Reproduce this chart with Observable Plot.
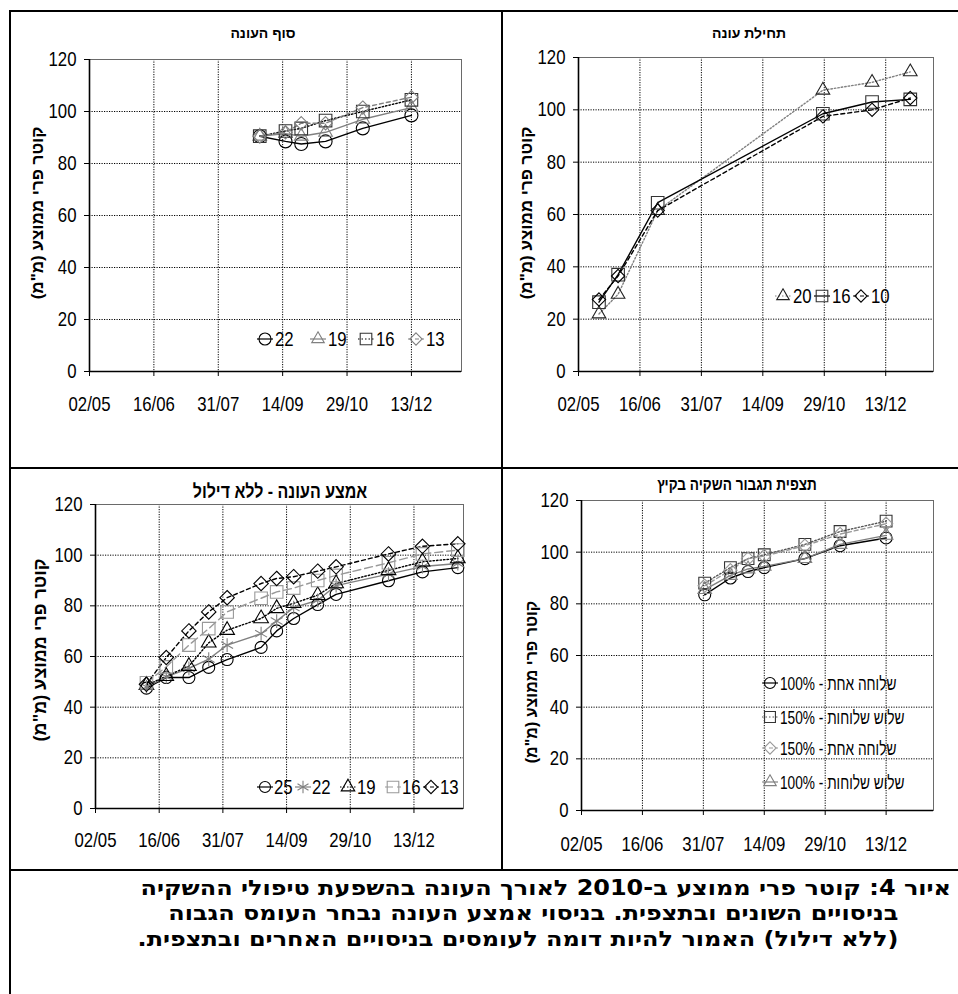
<!DOCTYPE html>
<html><head><meta charset="utf-8">
<script src="https://cdn.jsdelivr.net/npm/d3@7"></script>
<script src="https://cdn.jsdelivr.net/npm/@observablehq/plot@0.6"></script>
<style>
body{margin:0;background:#fff;}
#page{position:relative;width:958px;height:994px;overflow:hidden;background:#fff;font-family:"Liberation Sans",Arial,sans-serif;}
.b{position:absolute;background:#000;}
.title{position:absolute;font-weight:bold;white-space:nowrap;direction:rtl;color:#000;}
.ytitle{position:absolute;font-weight:bold;white-space:nowrap;direction:rtl;transform:translate(-50%,-50%) rotate(-90deg);color:#000;}
.cap{position:absolute;font-family:"DejaVu Sans",sans-serif;font-weight:bold;direction:rtl;white-space:nowrap;color:#000;line-height:25px;transform-origin:right center;transform:scaleX(1.14);}
</style></head>
<body><div id="page"></div>
<script>
// ---------- shared axis data ----------
const X_START = "2010-05-02", X_END = "2011-01-17";
const xTickDates = ["2010-05-02","2010-06-16","2010-07-31","2010-09-14","2010-10-29","2010-12-13"];
const xTickLabels = ["02/05","16/06","31/07","14/09","29/10","13/12"];
const yTicks = [0,20,40,60,80,100,120];
const yTitle = "קוטר פרי ממוצע (מ\"מ)";

// ---------- panel 1: סוף העונה ----------
const endTitle = "סוף העונה";
const endDates = ["2010-08-29","2010-09-16","2010-09-27","2010-10-14","2010-11-09","2010-12-13"];
const endNames = ["22","19","16","13"];
const end22 = [90.5, 88.5, 87.5, 88.5, 93.5, 98.5];
const end19 = [90.5, 91.5, 90.5, 92.0, 97.0, 101.5];
const end16 = [90.5, 92.5, 93.5, 96.5, 100.0, 104.5];
const end13 = [90.5, 92.0, 95.5, 95.5, 101.5, 105.5];

// ---------- panel 2: תחילת עונה ----------
const startTitle = "תחילת עונה";
const startDates = ["2010-05-17","2010-05-31","2010-06-29","2010-10-28","2010-12-03","2010-12-31"];
const startNames = ["20","16","10"];
const start20 = [22.0, 29.5, 61.5, 107.5, 110.5, 114.5];
const start16 = [26.5, 37.0, 64.5, 98.5, 103.0, 104.0];
const start10 = [27.5, 36.5, 61.5, 97.5, 100.0, 104.5];

// ---------- panel 3: אמצע העונה - ללא דילול ----------
const midTitle = "אמצע העונה - ללא דילול";
const midDates = ["2010-06-07","2010-06-21","2010-07-07","2010-07-21","2010-08-03","2010-08-27","2010-09-07","2010-09-19","2010-10-06","2010-10-19","2010-11-25","2010-12-19","2011-01-13"];
const midNames = ["25","22","19","16","13"];
const mid25 = [47.5, 51.7, 51.7, 55.7, 58.8, 63.6, 70.1, 75.0, 80.5, 84.5, 89.9, 93.4, 95.1];
const mid22 = [48.0, 52.0, 55.3, 59.0, 64.5, 69.0, 74.0, 79.3, 82.2, 88.0, 92.5, 95.5, 96.7];
const mid19 = [48.7, 52.2, 56.2, 65.4, 70.4, 75.0, 79.0, 81.0, 84.2, 88.8, 94.0, 97.4, 98.7];
const mid16 = [49.6, 55.9, 64.5, 71.0, 77.6, 83.0, 85.5, 87.0, 90.0, 92.0, 97.0, 100.5, 102.0];
const mid13 = [49.0, 59.6, 70.1, 77.6, 83.2, 88.8, 90.8, 91.5, 93.7, 95.4, 100.5, 103.5, 104.5];

// ---------- panel 4: תצפית תגבור השקיה בקיץ ----------
const obsTitle = "תצפית תגבור השקיה בקיץ";
const obsDates = ["2010-08-01","2010-08-20","2010-09-02","2010-09-14","2010-10-14","2010-11-09","2010-12-13"];
const obsNames = ["100% - שלוחה אחת","150% - שלוש שלוחות","150% - שלוחה אחת","100% - שלוש שלוחות"];
const obsOne100 = [83.5, 90.0, 92.5, 94.0, 97.5, 102.5, 105.5];
const obsThree150 = [88.0, 94.0, 97.5, 99.0, 103.0, 108.0, 112.0];
const obsOne150 = [87.0, 93.0, 97.5, 98.5, 102.5, 107.0, 111.0];
const obsThree100 = [85.5, 91.0, 93.5, 94.5, 97.5, 103.0, 106.5];

const caption1 = "איור 4: קוטר פרי ממוצע ב-2010 לאורך העונה בהשפעת טיפולי ההשקיה";
const caption2 = "בניסויים השונים ובתצפית. בניסוי אמצע העונה נבחר העומס הגבוה";
const caption3 = "(ללא דילול) האמור להיות דומה לעומסים בניסויים האחרים ובתצפית.";

// ---------- rendering ----------
const parse = d3.utcParse("%Y-%m-%d");
const page = document.getElementById("page");
const NARROW = '"Liberation Sans Narrow","Arial Narrow","Liberation Sans",sans-serif';
const SQUEEZE = 0.84;
const BLACK = "#000", GRAY = "#808080", LGRAY = "#999999";
const symMap = {circle:d3.symbolCircle, square2:d3.symbolSquare2, triangle2:d3.symbolTriangle2, diamond2:d3.symbolDiamond2, asterisk:d3.symbolAsterisk};

function box(l,t,w,h){const d=document.createElement("div");d.className="b";Object.assign(d.style,{left:l+"px",top:t+"px",width:w+"px",height:h+"px"});page.appendChild(d);}
function addText(cls,txt,x,y,size,extra){const d=document.createElement("div");d.className=cls;d.textContent=txt;Object.assign(d.style,{left:x+"px",top:y+"px",fontSize:size+"px"},extra||{});page.appendChild(d);return d;}

function panel(cfg){
  const rows = [];
  cfg.series.forEach(s => s.values.forEach((v,i) => rows.push({date: parse(cfg.dates[i]), value: v, name: s.name})));
  const marks = [
    Plot.gridY(yTicks.slice(1,-1), {stroke:BLACK, strokeOpacity:1, strokeWidth:1, strokeDasharray:"1.2,1.3"}),
    Plot.gridX(xTickDates.slice(1).map(parse), {stroke:BLACK, strokeOpacity:1, strokeWidth:1, strokeDasharray:"1.2,1.3"}),
    Plot.frame({stroke:"#6a6a6a", strokeWidth:1}),
    Plot.ruleY([0], {stroke:BLACK, strokeWidth:1.6}),
    Plot.ruleX([parse(X_START)], {stroke:BLACK, strokeWidth:1.6}),
    Plot.axisY(yTicks, {label:null, tickSize:5, tickPadding:8, fontSize:20, stroke:BLACK, fill:BLACK}),
    Plot.axisX(xTickDates.map(parse), {label:null, tickSize:5, tickPadding:cfg.xPad, fontSize:20, stroke:BLACK, fill:BLACK,
      tickFormat:(d,i)=>xTickLabels[i]})
  ];
  cfg.series.forEach(s => {
    const data = rows.filter(r => r.name === s.name);
    marks.push(Plot.line(data, {x:"date", y:"value", stroke:s.stroke, strokeWidth:s.sw||1.4, strokeDasharray:s.dash||null}));
  });
  cfg.series.forEach(s => {
    const data = rows.filter(r => r.name === s.name);
    marks.push(Plot.dot(data, {x:"date", y:"value", symbol:s.symbol, r:s.r, stroke:s.mstroke||s.stroke, fill:"none", strokeWidth:1.1}));
  });
  const svg = Plot.plot({
    width:cfg.w, height:cfg.h,
    marginLeft:cfg.mL, marginRight:cfg.mR, marginTop:cfg.mT, marginBottom:cfg.mB,
    x:{type:"utc", domain:[parse(X_START), parse(X_END)]},
    y:{domain:[0,120]},
    style:{fontFamily:NARROW, fontSize:"20px", background:"transparent", color:"#000", overflow:"visible"},
    marks
  });
  // condense tick labels horizontally (narrow font look)
  d3.select(svg).selectAll('g[aria-label="x-axis tick label"] text, g[aria-label="y-axis tick label"] text')
    .attr("transform", function(){ return (this.getAttribute("transform")||"") + ` scale(${SQUEEZE},1)`; });
  // legend
  const lsq = cfg.legendSqueeze || SQUEEZE;
  const g = d3.select(svg).append("g").attr("font-family", NARROW).attr("font-size", cfg.legendSize || 20).attr("text-anchor","start");
  cfg.series.forEach((s,i) => {
    const p = cfg.legend[i];
    g.append("line").attr("x1",p[0]).attr("x2",p[0]+16).attr("y1",p[1]).attr("y2",p[1])
      .attr("stroke",s.stroke).attr("stroke-width",1.2).attr("stroke-dasharray",s.dash||null);
    g.append("path").attr("d", d3.symbol(symMap[s.symbol], Math.PI*s.r*s.r*0.85)())
      .attr("transform",`translate(${p[0]+8},${p[1]})`).attr("fill","none")
      .attr("stroke",s.mstroke||s.stroke).attr("stroke-width",1.1);
    g.append("text").attr("transform",`translate(${p[0]+(cfg.legendGap||18)},${p[1]}) scale(${lsq},1)`)
      .attr("dy","0.35em").attr("fill","#000").text(s.label);
  });
  svg.style.position = "absolute";
  svg.style.left = cfg.left + "px";
  svg.style.top = cfg.top + "px";
  page.appendChild(svg);
}

// panel 1
panel({left:11, top:12, w:490, h:455, mL:78, mR:40, mT:47, mB:96, xPad:20, dates:endDates,
  series:[
    {name:"22", label:endNames[0], values:end22, stroke:BLACK, symbol:"circle", r:6.5},
    {name:"19", label:endNames[1], values:end19, stroke:GRAY, symbol:"triangle2", r:6.5},
    {name:"16", label:endNames[2], values:end16, stroke:BLACK, dash:"1.5,2", symbol:"square2", r:8, mstroke:"#333"},
    {name:"13", label:endNames[3], values:end13, stroke:GRAY, dash:"4,3", symbol:"diamond2", r:6}
  ],
  legend:[[246,327],[299,327],[347,327],[397,327]]
});
// panel 2
panel({left:503, top:12, w:455, h:455, mL:75, mR:25, mT:45, mB:96, xPad:20, dates:startDates,
  series:[
    {name:"20", label:startNames[0], values:start20, stroke:GRAY, dash:"1.5,2", symbol:"triangle2", r:6.5, mstroke:"#222"},
    {name:"16", label:startNames[1], values:start16, stroke:BLACK, symbol:"square2", r:8, mstroke:"#333"},
    {name:"10", label:startNames[2], values:start10, stroke:BLACK, dash:"4,3", symbol:"diamond2", r:6}
  ],
  legend:[[272,284],[311,284],[350,284]]
});
// panel 3
panel({left:11, top:469, w:490, h:400, mL:84, mR:38, mT:35, mB:61, xPad:19, dates:midDates,
  series:[
    {name:"25", label:midNames[0], values:mid25, stroke:BLACK, symbol:"circle", r:6},
    {name:"22", label:midNames[1], values:mid22, stroke:GRAY, symbol:"asterisk", r:6.5},
    {name:"19", label:midNames[2], values:mid19, stroke:BLACK, dash:"1.5,2", symbol:"triangle2", r:7},
    {name:"16", label:midNames[3], values:mid16, stroke:LGRAY, dash:"8,4", symbol:"square2", r:8},
    {name:"13", label:midNames[4], values:mid13, stroke:BLACK, dash:"4,3", symbol:"diamond2", r:6.5}
  ],
  legend:[[246,318],[284,318],[329,318],[374,318],[412,318]], legendGap:17
});
// panel 4
panel({left:503, top:469, w:455, h:400, mL:78, mR:25, mT:31, mB:59, xPad:21, dates:obsDates,
  series:[
    {name:"o100", label:obsNames[0], values:obsOne100, stroke:BLACK, symbol:"circle", r:6},
    {name:"t150", label:obsNames[1], values:obsThree150, stroke:"#555", dash:"1.5,2", symbol:"square2", r:7.5, mstroke:"#333"},
    {name:"o150", label:obsNames[2], values:obsOne150, stroke:LGRAY, dash:"4,3", symbol:"diamond2", r:6},
    {name:"t100", label:obsNames[3], values:obsThree100, stroke:GRAY, symbol:"triangle2", r:6.5}
  ],
  legend:[[259,214],[259,248],[259,279],[259,313]], legendSize:19, legendSqueeze:0.72
});

// borders
box(9,10,949,2);      // top
box(9,10,2,984);      // left
box(501,10,2,859);    // middle vertical
box(9,467,949,2);     // middle horizontal
box(9,869,949,2);     // caption divider

// titles
addText("title", endTitle, 263, 33, 14, {transform:"translate(-50%,-50%)"});
addText("title", startTitle, 749, 33, 14, {transform:"translate(-50%,-50%)"});
addText("title", midTitle, 280, 492, 19, {transform:"translate(-50%,-50%) scaleX(0.84)"});
addText("title", obsTitle, 737, 485, 17, {transform:"translate(-50%,-50%) scaleX(0.8)"});
addText("ytitle", yTitle, 38, 213, 17);
addText("ytitle", yTitle, 527, 213, 17);
addText("ytitle", yTitle, 40, 650, 18);
addText("ytitle", yTitle, 532, 682, 16);

// caption
const c1 = addText("cap", caption1, 0, 876, 21); c1.style.left = ""; c1.style.right = "7px";
const c2 = addText("cap", caption2, 0, 901, 21); c2.style.left = ""; c2.style.right = "60px";
const c3 = addText("cap", caption3, 0, 927, 21); c3.style.left = ""; c3.style.right = "60px";
</script>
</body></html>
